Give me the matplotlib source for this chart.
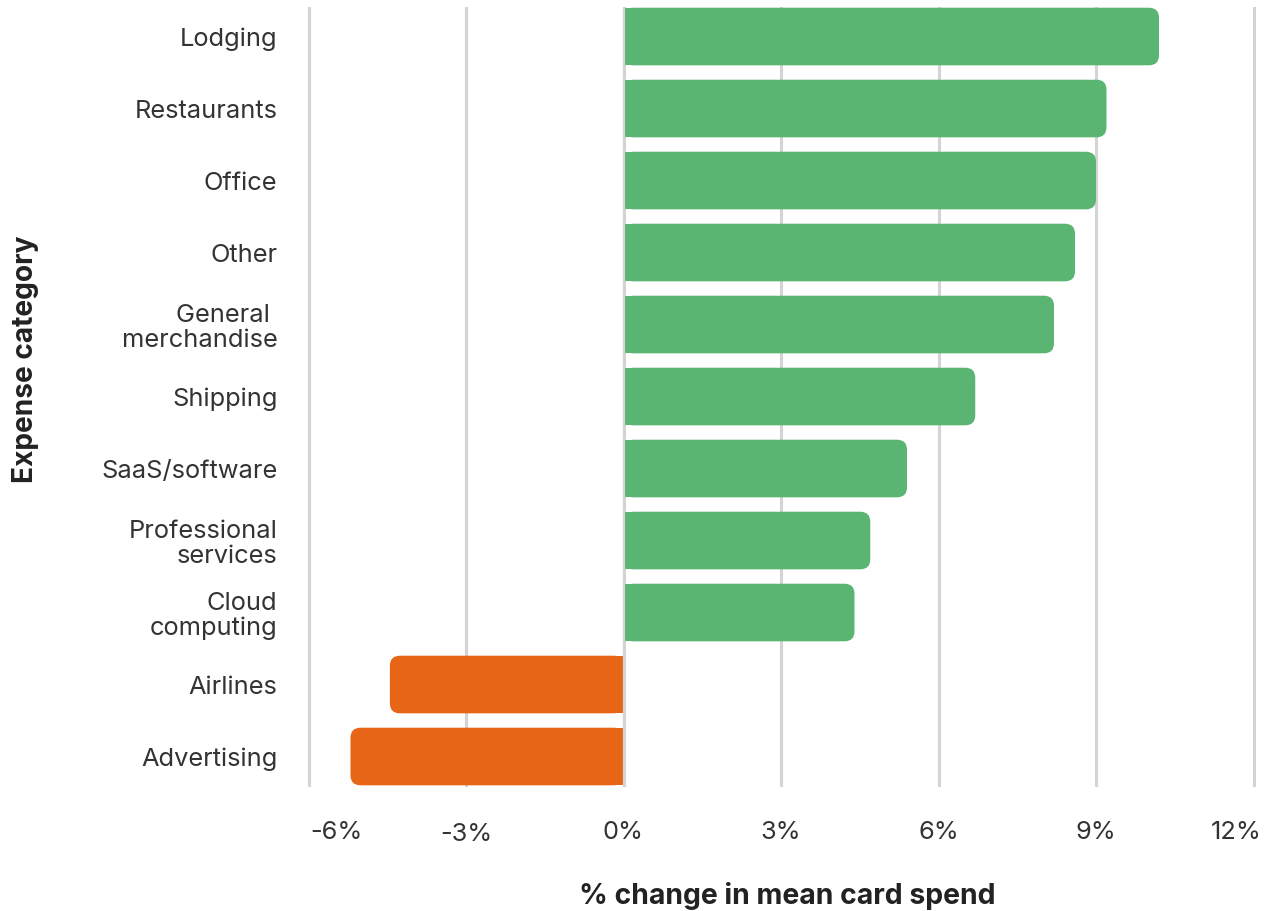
import matplotlib
matplotlib.use("Agg")
import matplotlib.pyplot as plt
from matplotlib.patches import FancyBboxPatch, Rectangle
from matplotlib.transforms import ScaledTranslation

categories = ["Lodging", "Restaurants", "Office", "Other", "General \nmerchandise",
              "Shipping", "SaaS/software", "Professional\nservices", "Cloud\ncomputing",
              "Airlines", "Advertising"]
pct_change = [10.2, 9.2, 9.0, 8.6, 8.2, 6.7, 5.4, 4.7, 4.4, -4.45, -5.2]
x_ticks = [-6, -3, 0, 3, 6, 9, 12]
x_tick_labels = ["-6%", "-3%", "0%", "3%", "6%", "9%", "12%"]

GREEN = "#5bb572"
ORANGE = "#e66517"
GRID = "#d4d4d4"
TEXT = "#333333"

plt.rcParams["font.family"] = ["Inter", "DejaVu Sans"]

W, H = 1274, 911
fig = plt.figure(figsize=(W / 100, H / 100), dpi=100)

xmin, xmax = -6.3, 12.2
ytop, ybot = -0.41, 10.43
px_per_x = 52.5
px_per_y = 72.0
x0_px = 623.5
left_px = x0_px + xmin * px_per_x
right_px = x0_px + xmax * px_per_x
top_px = 7.0
bot_px = top_px + (ybot - ytop) * px_per_y
ax = fig.add_axes([left_px / W, 1 - bot_px / H, (right_px - left_px) / W, (bot_px - top_px) / H])
ax.set_xlim(xmin, xmax)
ax.set_ylim(ybot, ytop)

ypos = list(range(len(categories)))
bar_h = 0.8
bars = ax.barh(ypos, pct_change, height=bar_h, color="none", edgecolor="none")

# rounded outer end, square end at zero
radius_px = 10.0
r_x = radius_px / px_per_x
aspect = (radius_px / px_per_y) / r_x
for rect, v in zip(bars.patches, pct_change):
    color = GREEN if v >= 0 else ORANGE
    x, y = rect.get_x(), rect.get_y()
    w, h = rect.get_width(), rect.get_height()
    rx0, rw = (x, w) if w >= 0 else (x + w, -w)
    ax.add_patch(FancyBboxPatch((rx0, y), rw, h,
                                boxstyle=f"round,pad=0,rounding_size={r_x}",
                                mutation_aspect=aspect, facecolor=color,
                                edgecolor="none", zorder=2))
    ax.add_patch(Rectangle((x, y), w / 2, h, facecolor=color, edgecolor="none", zorder=2))

ax.axvline(0, color=GRID, lw=1.6, zorder=3)

ax.set_xticks(x_ticks)
ax.set_xticklabels(x_tick_labels)
ax.set_yticks(ypos)
ax.set_yticklabels(categories, linespacing=1.1)
ax.grid(axis="x", color=GRID, lw=2.2, zorder=0)
ax.set_axisbelow(True)
for s in ax.spines.values():
    s.set_visible(False)
ax.tick_params(axis="both", length=0, labelsize=18.3, colors=TEXT)
ax.tick_params(axis="x", pad=24)
ax.tick_params(axis="y", pad=11)

# keep the end labels inside the plot width
label_shift_px = [(28, 0), (0, -2), (0, 0), (0, 0), (0, 0), (0, 0), (-17, 0)]
for lbl, (dx, dy) in zip(ax.get_xticklabels(), label_shift_px):
    lbl.set_transform(lbl.get_transform() + ScaledTranslation(dx / 100, dy / 100, fig.dpi_scale_trans))

ax.set_xlabel("% change in mean card spend", fontsize=20.4, fontweight="bold",
              color="#222222", labelpad=26)
ax.set_ylabel("Expense category", fontsize=20.2, fontweight="bold",
              color="#222222", labelpad=45)
ax.xaxis.label.set_x((787.5 - left_px) / (right_px - left_px))
ax.yaxis.label.set_y((bot_px - 359) / (bot_px - top_px))

fig.savefig("out.png", dpi=100, facecolor="white")
